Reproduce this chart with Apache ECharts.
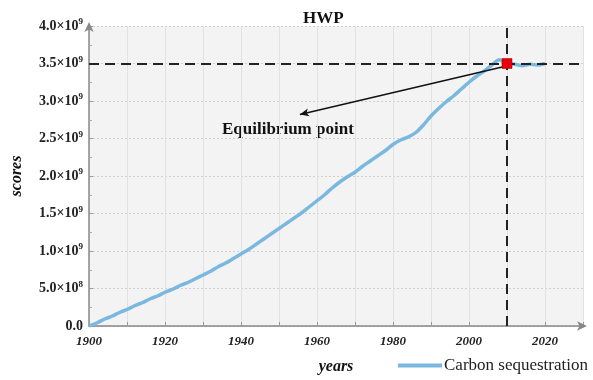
<!DOCTYPE html>
<html><head><meta charset="utf-8">
<script src="https://cdn.jsdelivr.net/npm/echarts@6/dist/echarts.min.js"></script>
<style>html,body{margin:0;padding:0;background:#fff}#c{width:593px;height:380px}</style>
</head><body><div id="c"></div>
<script>
const years = [1900,1902,1904,1906,1908,1910,1912,1914,1916,1918,1920,1922,1924,1926,1928,1930,1932,1934,1936,1938,1940,1942,1944,1946,1948,1950,1952,1954,1956,1958,1960,1962,1964,1966,1968,1970,1972,1974,1976,1978,1980,1982,1984,1986,1988,1990,1992,1994,1996,1998,2000,2002,2004,2006,2008,2010,2012,2014,2016,2018,2020];
const carbonE9 = [0.00,0.04,0.09,0.13,0.18,0.22,0.27,0.31,0.36,0.40,0.45,0.49,0.54,0.58,0.63,0.68,0.73,0.79,0.84,0.90,0.96,1.02,1.09,1.16,1.23,1.30,1.37,1.44,1.51,1.59,1.67,1.75,1.84,1.92,1.99,2.05,2.13,2.20,2.27,2.34,2.42,2.48,2.52,2.58,2.68,2.80,2.90,2.99,3.07,3.16,3.25,3.33,3.40,3.48,3.55,3.50,3.49,3.47,3.49,3.48,3.50];
const yTickLabels = ['0.0','5.0×10|8','1.0×10|9','1.5×10|9','2.0×10|9','2.5×10|9','3.0×10|9','3.5×10|9','4.0×10|9'];
const equilibriumYear = 2010;
const equilibriumValue = 3.5e9;
const arrowFrom = [2009.3, 3.46e9];
const arrowTo = [1955.5, 2.82e9];

const serif = '"Liberation Serif", "Times New Roman", serif';
const chart = echarts.init(document.getElementById('c'));
const lineData = years.map((y,i)=>[y, carbonE9[i]*1e9]);

chart.setOption({
  animation:false,
  title:{text:'HWP', left:298, top:5, textStyle:{fontFamily:serif, fontWeight:'bold', fontSize:17, color:'#111'}},
  legend:{data:['Carbon sequestration'], left:393, top:352, itemWidth:44, itemHeight:4, itemGap:4,
    icon:'rect',
    textStyle:{fontFamily:serif, fontSize:17, color:'#222', padding:[0,0,0,-3]}},
  grid:{left:89, right:10, top:26, bottom:50, show:true, backgroundColor:'#f3f3f3', borderWidth:0},
  xAxis:{type:'value', min:1900, max:2030, interval:10,
    name:'years', nameLocation:'middle', nameGap:33,
    nameTextStyle:{fontFamily:serif, fontStyle:'italic', fontWeight:'bold', fontSize:16, color:'#111'},
    axisLine:{show:true, lineStyle:{color:'#888', width:1.5}, symbol:['none','arrow'], symbolSize:[7,10], symbolOffset:[0,4]},
    axisTick:{show:true, inside:true, length:4, lineStyle:{color:'#999'}},
    axisLabel:{fontFamily:serif, fontStyle:'italic', fontWeight:'bold', fontSize:13, color:'#222', margin:9,
      formatter:v=> (v%20===0 && v<=2020) ? String(v) : ''},
    splitLine:{show:true, lineStyle:{color:'#e2e2e2', width:1}}
  },
  yAxis:{type:'value', min:0, max:4e9, interval:0.5e9,
    name:'scores', nameLocation:'middle', nameGap:64, nameRotate:90,
    nameTextStyle:{fontFamily:serif, fontStyle:'italic', fontWeight:'bold', fontSize:16, color:'#111'},
    axisLine:{show:true, lineStyle:{color:'#888', width:1.5}, symbol:['none','arrow'], symbolSize:[7,10], symbolOffset:[0,4]},
    axisTick:{show:true, inside:true, length:4, lineStyle:{color:'#999'}},
    minorTick:{show:true, splitNumber:2, length:3, lineStyle:{color:'#aaa'}},
    axisLabel:{margin:6,
      formatter:(v,i)=>{const t=yTickLabels[i]; if(!t) return ''; const p=t.split('|'); return p.length>1?'{a|'+p[0]+'}{s|'+p[1]+'}':'{a|'+p[0]+'}';},
      rich:{a:{fontFamily:serif, fontWeight:'bold', fontSize:14, color:'#222'},
            s:{fontFamily:serif, fontWeight:'bold', fontSize:9, color:'#222', padding:[0,0,8,0]}}},
    splitLine:{show:true, lineStyle:{color:'#cfcfcf', type:[2,2], width:1}}
  },
  series:[
    {name:'Carbon sequestration', type:'line', data:lineData, showSymbol:false, smooth:0.3,
     color:'#7ab8e0', lineStyle:{width:3.5, color:'#7ab8e0'}, z:3,
     markLine:{silent:true, symbol:['none','none'], label:{show:false}, animation:false,
       lineStyle:{color:'#222', type:[10,6], width:2},
       data:[{yAxis:equilibriumValue},{xAxis:equilibriumYear},
         [{coord:arrowFrom, symbol:'none', lineStyle:{type:'solid', width:1.5, color:'#111'}},
          {coord:arrowTo, symbol:'arrow', symbolSize:[6,9]}]]},
     markPoint:{silent:true, data:[{coord:[equilibriumYear,equilibriumValue], symbol:'rect', symbolSize:10,
       itemStyle:{color:'#e8000b', borderColor:'#990000', borderWidth:0.5}, label:{show:false}}]}
    }
  ],
  graphic:[{type:'text', left:222, top:121, style:{text:'Equilibrium point', font:'bold 17px '+serif, fill:'#111'}}]
});
</script></body></html>
